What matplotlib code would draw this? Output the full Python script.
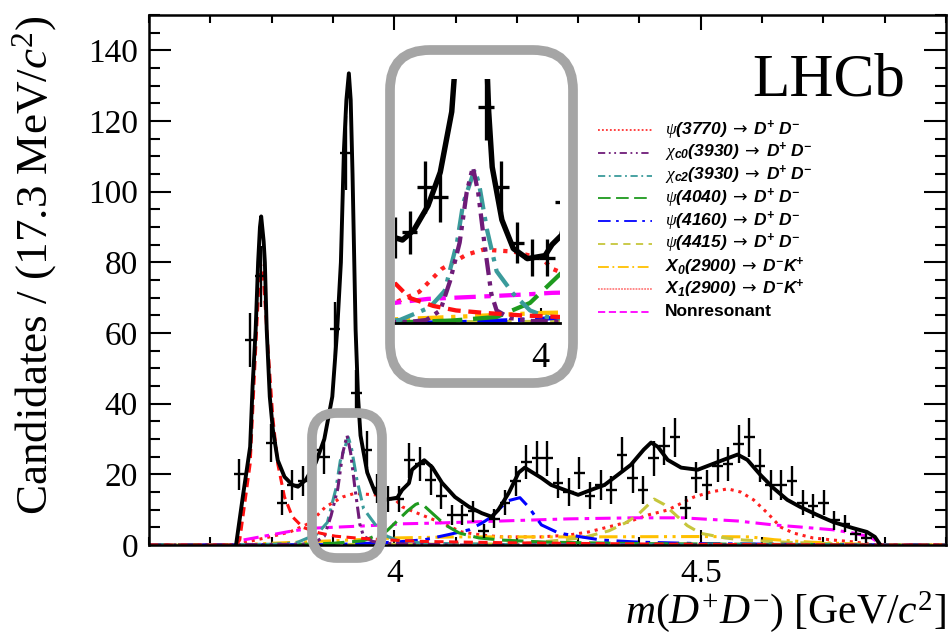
import numpy as np
import matplotlib
matplotlib.use('Agg')
import matplotlib.pyplot as plt
from matplotlib.patches import FancyBboxPatch
from matplotlib.lines import Line2D
from matplotlib.ticker import MultipleLocator

plt.rcParams['font.family'] = ['Liberation Serif', 'DejaVu Serif']
plt.rcParams['mathtext.fontset'] = 'custom'
plt.rcParams['mathtext.rm'] = 'Liberation Serif'
plt.rcParams['mathtext.it'] = 'Liberation Serif:italic'
plt.rcParams['mathtext.bf'] = 'DejaVu Sans'
plt.rcParams['mathtext.sf'] = 'Liberation Sans:italic:bold'

# histogram: 75 bins of 17.3 MeV between 3.6 and 4.9 GeV
edges = np.linspace(3.6, 4.9, 76)
first_bin = 8
counts = [20, 58, 76, 29, 12, 17, 18, 27, 25, 61, 111, 43, 27, 16, 13, 13,
          24, 23, 18.5, 14, 8.5, 8.5, 9.5, 4, 7.5, 12, 18, 23.5, 24.5, 24.5,
          17.5, 15, 20.5, 14, 17, 15.5, 25.5, 19, 15.5, 24.5, 28, 30.5, 10.5,
          19, 17, 22.5, 23, 28.5, 30.5, 22.5, 17, 17, 18, 12, 11, 12, 7, 6, 3, 2]

# total fit
fit_m = [3.742, 3.753, 3.765, 3.769, 3.774, 3.778, 3.781, 3.783, 3.787, 3.789,
         3.792, 3.797, 3.802, 3.810, 3.821, 3.834, 3.843, 3.856, 3.872, 3.886,
         3.899, 3.907, 3.913, 3.918, 3.922, 3.926, 3.929, 3.932, 3.937, 3.941,
         3.945, 3.956, 3.969, 3.985, 4.005, 4.013, 4.024, 4.029, 4.037, 4.049,
         4.062, 4.078, 4.099, 4.122, 4.143, 4.159, 4.170, 4.187, 4.203, 4.213,
         4.224, 4.240, 4.256, 4.278, 4.300, 4.321, 4.343, 4.365, 4.386, 4.407,
         4.419, 4.430, 4.446, 4.468, 4.495, 4.516, 4.537, 4.560, 4.576, 4.597,
         4.618, 4.641, 4.662, 4.690, 4.716, 4.748, 4.771, 4.784, 4.791]
fit_y = [0, 13.6, 27.8, 45, 61, 80, 90, 93, 86, 80,
         61, 42, 32.7, 24, 19.3, 17, 16.5, 18.5, 23.3, 30,
         42, 61, 80, 112, 126, 133.5, 126, 105, 61, 42,
         31, 20.5, 14.8, 12.8, 13.4, 15.6, 17.5, 21.3, 22.5, 24,
         22, 17.6, 13.6, 10.8, 9, 8, 10, 14.8, 20.5, 21.9,
         20.7, 19, 17, 15.6, 14.2, 15.6, 17, 19.9, 22.7, 27,
         29, 27.8, 24.1, 21.9, 21.3, 22.7, 24.1, 25.6, 24.1, 19.9,
         16.2, 12.8, 10.8, 8.5, 6.5, 4.8, 3.7, 2.3, 0.5]

# fit components
psi3770_m = [3.6, 3.742, 3.748, 3.765, 3.773, 3.781, 3.786, 3.794, 3.802, 3.810, 3.821,
             3.834, 3.851, 3.878, 3.904, 3.937, 3.98, 4.05, 4.2, 4.4, 4.6, 4.79, 4.9]
psi3770_y = [0, 0, 1.4, 23, 52, 80, 77, 56, 36, 23, 13.6,
             8, 5, 3.4, 2.5, 2, 1.5, 1.0, 0.6, 0.3, 0.1, 0, 0]
chic0_m = [3.6, 3.85, 3.870, 3.886, 3.897, 3.908, 3.916, 3.923, 3.929, 3.936,
           3.944, 3.950, 3.965, 3.99, 4.1, 4.9]
chic0_y = [0, 0.2, 0.6, 2.5, 8.3, 16, 26, 31, 26, 16, 5.8, 2.5, 1.0, 0.4, 0, 0]
chic2_m = [3.6, 3.80, 3.840, 3.874, 3.891, 3.905, 3.912, 3.925, 3.930, 3.939,
           3.950, 3.969, 3.988, 4.007, 4.05, 4.2, 4.9]
chic2_y = [0, 0.2, 0.6, 3.1, 6.4, 16, 23.8, 30.5, 27.7, 18.6,
           10.3, 5.8, 2.5, 1.2, 0.5, 0.1, 0]
psi4040_m = [3.6, 3.85, 3.90, 3.95, 3.988, 4.022, 4.035, 4.043, 4.062, 4.083,
             4.106, 4.138, 4.175, 4.25, 4.4, 4.6, 4.79, 4.9]
psi4040_y = [0, 0.2, 0.5, 1.2, 4.0, 9.7, 11.5, 12, 9, 5.7,
             3.4, 2, 1.4, 0.8, 0.4, 0.2, 0, 0]
psi4160_m = [3.6, 3.9, 4.0, 4.05, 4.09, 4.122, 4.143, 4.159, 4.175, 4.185,
             4.205, 4.219, 4.240, 4.268, 4.305, 4.338, 4.4, 4.5, 4.7, 4.9]
psi4160_y = [0, 0.1, 0.8, 1.5, 3, 4.3, 6.2, 8, 10.8, 12.5,
             13.4, 10.8, 5.7, 3.4, 2.3, 1.4, 0.8, 0.4, 0.1, 0]
psi4415_m = [3.6, 4.2, 4.28, 4.31, 4.35, 4.38, 4.40, 4.415, 4.424, 4.44,
             4.456, 4.478, 4.50, 4.54, 4.57, 4.65, 4.79, 4.9]
psi4415_y = [0, 0.3, 1.5, 2.2, 4.0, 6.5, 9, 11.5, 13, 11.5,
             9, 5.5, 3.3, 2, 1.4, 0.7, 0, 0]
x0_m = [3.6, 3.742, 3.80, 3.90, 3.95, 4.0, 4.1, 4.3, 4.5, 4.58, 4.62, 4.68, 4.75, 4.79, 4.9]
x0_y = [0, 0, 0.5, 1.2, 1.6, 2.0, 2.3, 2.3, 2.4, 2.3, 1.5, 0.8, 0.3, 0, 0]
x1_m = [3.6, 3.742, 3.758, 3.797, 3.830, 3.862, 3.888, 3.916, 3.935, 3.969, 4.002,
        4.013, 4.045, 4.078, 4.110, 4.143, 4.175, 4.208, 4.240, 4.284, 4.317,
        4.349, 4.381, 4.414, 4.446, 4.489, 4.516, 4.544, 4.565, 4.586, 4.609,
        4.630, 4.651, 4.683, 4.716, 4.748, 4.787, 4.9]
x1_y = [0, 0, 0.8, 2.3, 3.7, 6.2, 10.8, 13.6, 14.6, 14.2, 12.8,
        10.8, 8.5, 6.2, 3.7, 2.8, 2.3, 2.3, 2.3, 2.8, 3.7,
        5.1, 6.5, 8.5, 9.9, 13.6, 15, 15.9, 15, 12.8, 9,
        5.1, 3.4, 2, 1.4, 0.9, 0, 0]
nonres_m = [3.6, 3.742, 3.753, 3.797, 3.834, 3.872, 3.911, 3.95, 3.985, 4.013,
            4.066, 4.175, 4.284, 4.391, 4.47, 4.50, 4.56, 4.618, 4.662, 4.716,
            4.748, 4.776, 4.789, 4.792, 4.9]
nonres_y = [0, 0, 1.4, 2.8, 4.0, 4.8, 5.1, 5.4, 5.7, 6.0,
            6.2, 6.8, 7.4, 7.7, 7.7, 7.4, 6.8, 5.7, 5.1, 4.3,
            3.4, 2.3, 0.8, 0, 0]

arr = r'\ \mathbf{\rightarrow}\ '
legend_labels = [r'$\psi\mathsf{(3770)}' + arr + r'\mathsf{D^{+}\ D^{-}}$',
                 r'$\chi_{\mathsf{c0}}\mathsf{(3930)}' + arr + r'\mathsf{D^{+}\ D^{-}}$',
                 r'$\chi_{\mathsf{c2}}\mathsf{(3930)}' + arr + r'\mathsf{D^{+}\ D^{-}}$',
                 r'$\psi\mathsf{(4040)}' + arr + r'\mathsf{D^{+}\ D^{-}}$',
                 r'$\psi\mathsf{(4160)}' + arr + r'\mathsf{D^{+}\ D^{-}}$',
                 r'$\psi\mathsf{(4415)}' + arr + r'\mathsf{D^{+}\ D^{-}}$',
                 r'$\mathsf{X_{0}(2900)}' + arr + r'\mathsf{D^{-}K^{+}}$',
                 r'$\mathsf{X_{1}(2900)}' + arr + r'\mathsf{D^{-}K^{+}}$',
                 'Nonresonant']

# styles: (colour, dash pattern in plot)
comp = [
    (x1_m, x1_y, '#ff2020', (1, 1.6)),
    (nonres_m, nonres_y, '#ff00ff', (5, 2, 1.5, 2)),
    (x0_m, x0_y, '#ffc000', (6, 1.8, 1, 1.8, 1, 1.8)),
    (psi4415_m, psi4415_y, '#c6c63c', (4, 2.5)),
    (psi4160_m, psi4160_y, '#0000ff', (7, 2.5, 1.5, 2.5)),
    (psi4040_m, psi4040_y, '#1e9a1e', (7, 2.5)),
    (chic2_m, chic2_y, '#3a9b9b', (5, 1.8, 1, 1.8)),
    (chic0_m, chic0_y, '#6e1b78', (4, 1.5, 1, 1.5, 1, 1.5)),
    (psi3770_m, psi3770_y, '#ff1010', (3, 1.8)),
]
leg_styles = [('#ff3030', (1, 1.2)), ('#6e1b78', (4, 2, 1, 2, 1, 2)),
              ('#3a9b9b', (4, 2, 1, 2)), ('#1e9a1e', (7, 3)),
              ('#0000ff', (7, 3, 1.5, 3)), ('#c6c63c', (4, 3)),
              ('#ffc000', (6, 2, 1, 2)), ('#ff8080', (1, 0.6)),
              ('#ff00ff', (4, 2))]

centers = 0.5 * (edges[:-1] + edges[1:])[first_bin:first_bin + len(counts)]
half = 0.5 * (edges[1] - edges[0])


def draw(a, s):
    for m, y, c, d in comp:
        a.plot(m, y, color=c, lw=2.2 * s, ls=(0, d))
    a.plot(fit_m, fit_y, color='k', lw=2.8 * s)
    a.errorbar(centers, counts, yerr=np.sqrt(counts), xerr=half, fmt='none',
               ecolor='k', elinewidth=1.7 * s, capsize=0)


fig = plt.figure(figsize=(9.52, 6.37), dpi=100)
ax = fig.add_axes([0.1565, 0.1444, 0.8372, 0.8320])
draw(ax, 1.0)
ax.set_xlim(3.6, 4.9)
ax.set_ylim(0, 150)
ax.set_xticks([4.0, 4.5])
ax.set_xticklabels(['4', '4.5'])
ax.xaxis.set_minor_locator(MultipleLocator(0.1))
ax.yaxis.set_minor_locator(MultipleLocator(5))
ax.set_yticks(range(0, 141, 20))
ax.tick_params(which='both', direction='in', top=True, right=True, width=1.5, labelsize=24)
ax.tick_params(axis='y', which='major', length=16, pad=8)
ax.tick_params(axis='y', which='minor', length=8)
ax.tick_params(axis='x', which='major', length=11, pad=10)
ax.tick_params(axis='x', which='minor', length=6)
for sp in ax.spines.values():
    sp.set_linewidth(1.8)
ax.set_ylabel('Candidates / (17.3 MeV/$c^{2}$)', fontsize=32.5, ha='right')
ax.yaxis.set_label_coords(-0.113, 1.0)
ax.set_xlabel(r'$m(D^{+}D^{-})$ [GeV/$c^{2}$]', fontsize=30, ha='right', va='bottom')
ax.xaxis.set_label_coords(1.0, -0.168)
ax.text(0.949, 0.849, 'LHCb', transform=ax.transAxes, ha='right', va='baseline', fontsize=44)

# zoomed inset
ins = fig.add_axes([0.4149, 0.4929, 0.1733, 0.3830])
draw(ins, 1.4)
ins.set_xlim(3.8345, 4.022)
ins.set_ylim(0, 48.5)
ins.set_xticks([4.0])
ins.set_xticklabels(['4'])
ins.xaxis.set_minor_locator(MultipleLocator(0.1))
ins.set_yticks([])
ins.tick_params(which='both', direction='in', width=1.5, labelsize=26)
ins.tick_params(which='major', length=11, pad=14)
ins.tick_params(which='minor', length=6)
for k in ['top', 'left', 'right']:
    ins.spines[k].set_visible(False)
ins.spines['bottom'].set_linewidth(2)

# grey frames (inches from bottom-left)
for (x0, y0, w, h, r) in [(3.90, 2.54, 1.83, 3.33, 0.4), (3.12, 0.79, 0.70, 1.45, 0.25)]:
    fig.add_artist(FancyBboxPatch((x0, y0), w, h,
                                  boxstyle='round,pad=0,rounding_size=%g' % r,
                                  transform=fig.dpi_scale_trans, fc='none',
                                  ec='#a5a5a5', lw=7))

# legend
for i, (lab, (c, d)) in enumerate(zip(legend_labels, leg_styles)):
    yp = 1 - (130 + 22.75 * i) / 637
    fig.add_artist(Line2D([598 / 952, 652 / 952], [yp, yp], transform=fig.transFigure,
                          color=c, lw=1.3, ls=(0, d)))
    fig.text(665 / 952, yp, lab, fontsize=12.5, va='center', ha='left',
             family=['Liberation Sans', 'DejaVu Sans'], weight='bold')

fig.savefig('out.png', dpi=100)
